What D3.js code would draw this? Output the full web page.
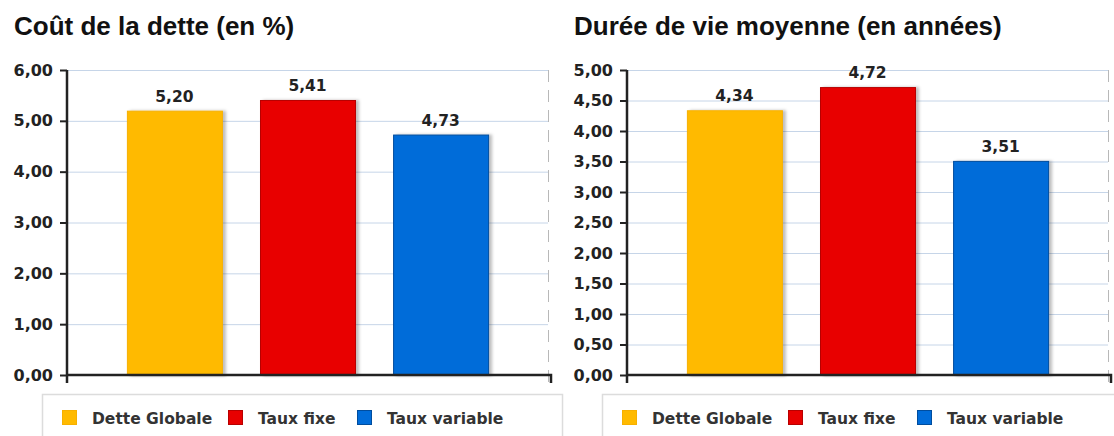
<!DOCTYPE html>
<html>
<head>
<meta charset="utf-8">
<script src="https://cdn.jsdelivr.net/npm/d3@7"></script>
<style>
  body { margin: 0; background: #fff; }
  svg { display: block; }
</style>
</head>
<body>
<div id="chart"></div>
<script>
var categories = ["Dette Globale", "Taux fixe", "Taux variable"];
var coutValues = [5.20, 5.41, 4.73];
var dureeValues = [4.34, 4.72, 3.51];
var coutTicks = [0, 1, 2, 3, 4, 5, 6];
var dureeTicks = [0, 0.5, 1, 1.5, 2, 2.5, 3, 3.5, 4, 4.5, 5];
var titles = ["Coût de la dette (en %)", "Durée de vie moyenne (en années)"];

var colors = ["#ffba00", "#e80000", "#006cd9"];
var strokes = ["#f7b000", "#b80000", "#004d9e"];

var width = 1114, height = 436;

var svg = d3.select("#chart")
    .append("svg")
    .attr("width", width)
    .attr("height", height);

// soft shadow on the bars
var defs = svg.append("defs");
defs.append("filter")
    .attr("id", "shadow")
    .attr("x", "-10%").attr("y", "-10%")
    .attr("width", "130%").attr("height", "120%")
    .append("feDropShadow")
    .attr("dx", 3).attr("dy", 0)
    .attr("stdDeviation", 1.5)
    .attr("flood-color", "#000")
    .attr("flood-opacity", 0.25);

var fmt = function(v) { return d3.format(".2f")(v).replace(".", ","); };

function drawChart(offsetX, title, values, ticks) {
    var g = svg.append("g").attr("transform", "translate(" + offsetX + ",0)");
    var left = 67, right = 548, top = 70, bottom = 375;

    var x = d3.scaleBand()
        .domain(categories)
        .range([left, right])
        .paddingInner(0.286)
        .paddingOuter(0.45);

    var y = d3.scaleLinear()
        .domain([0, d3.max(ticks)])
        .range([bottom, top]);

    // title
    g.append("text")
        .attr("x", 14)
        .attr("y", 35)
        .style("font-family", "'Liberation Sans', Arial, sans-serif")
        .style("font-weight", "bold")
        .style("font-size", "26px")
        .style("fill", "#111")
        .text(title);

    // gridlines
    g.append("g")
        .selectAll("line")
        .data(ticks.filter(function(d) { return d > 0; }))
        .enter()
        .append("line")
        .attr("x1", left).attr("x2", right)
        .attr("y1", function(d) { return y(d) + 0.5; })
        .attr("y2", function(d) { return y(d) + 0.5; })
        .style("stroke", "#c6d5e8")
        .style("stroke-width", 1);

    // dashed right border
    g.append("line")
        .attr("x1", right + 0.5).attr("x2", right + 0.5)
        .attr("y1", top).attr("y2", bottom + 8)
        .style("stroke", "#b8b8b8")
        .style("stroke-width", 1)
        .style("stroke-dasharray", "12,8");

    // bars
    g.append("g")
        .selectAll("rect")
        .data(values)
        .enter()
        .append("rect")
        .attr("x", function(d, i) { return x(categories[i]) + 0.5; })
        .attr("y", function(d) { return y(d) + 0.5; })
        .attr("width", x.bandwidth())
        .attr("height", function(d) { return y(0) - y(d); })
        .attr("filter", "url(#shadow)")
        .style("fill", function(d, i) { return colors[i]; })
        .style("stroke", function(d, i) { return strokes[i]; })
        .style("stroke-width", 1);

    // value labels
    g.append("g")
        .selectAll("text")
        .data(values)
        .enter()
        .append("text")
        .attr("x", function(d, i) { return x(categories[i]) + x.bandwidth() / 2; })
        .attr("y", function(d) { return y(d) - 9; })
        .attr("text-anchor", "middle")
        .style("font-family", "'DejaVu Sans', Verdana, sans-serif")
        .style("font-weight", "bold")
        .style("font-size", "15.5px")
        .style("fill", "#222")
        .text(fmt);

    // y axis
    var yAxis = g.append("g")
        .attr("transform", "translate(" + left + ",0)")
        .call(d3.axisLeft(y).tickValues(ticks).tickFormat(fmt).tickSize(7).tickPadding(7));
    yAxis.select(".domain")
        .attr("d", "M0," + top + "V" + (bottom + 8))
        .style("stroke", "#222")
        .style("stroke-width", 2.5);
    yAxis.selectAll(".tick line")
        .style("stroke", "#222")
        .style("stroke-width", 2);
    yAxis.selectAll(".tick text")
        .style("font-family", "'DejaVu Sans', Verdana, sans-serif")
        .style("font-weight", "bold")
        .style("font-size", "16px")
        .style("fill", "#222");

    // x axis line
    g.append("path")
        .attr("d", "M" + left + "," + bottom + "H" + (right + 3) + "V" + (bottom + 8))
        .style("fill", "none")
        .style("stroke", "#222")
        .style("stroke-width", 2.5);

    // legend
    var lg = g.append("g").attr("transform", "translate(42,394)");
    lg.append("rect")
        .attr("x", 0.5).attr("y", 0.5)
        .attr("width", 520).attr("height", 60)
        .style("fill", "#fff")
        .style("stroke", "#dcdcdc")
        .style("stroke-width", 1.5);

    var itemX = [20, 186, 315];
    var items = lg.selectAll(".item")
        .data(categories)
        .enter()
        .append("g")
        .attr("class", "item")
        .attr("transform", function(d, i) { return "translate(" + itemX[i] + ",16)"; });
    items.append("rect")
        .attr("width", 14).attr("height", 14)
        .attr("x", 0.5).attr("y", 0.5)
        .style("fill", function(d, i) { return colors[i]; })
        .style("stroke", function(d, i) { return strokes[i]; });
    items.append("text")
        .attr("x", 30)
        .attr("y", 13.5)
        .style("font-family", "'DejaVu Sans', Verdana, sans-serif")
        .style("font-weight", "bold")
        .style("font-size", "15.5px")
        .style("fill", "#333")
        .text(function(d) { return d; });
}

drawChart(0, titles[0], coutValues, coutTicks);
drawChart(560, titles[1], dureeValues, dureeTicks);
</script>
</body>
</html>
